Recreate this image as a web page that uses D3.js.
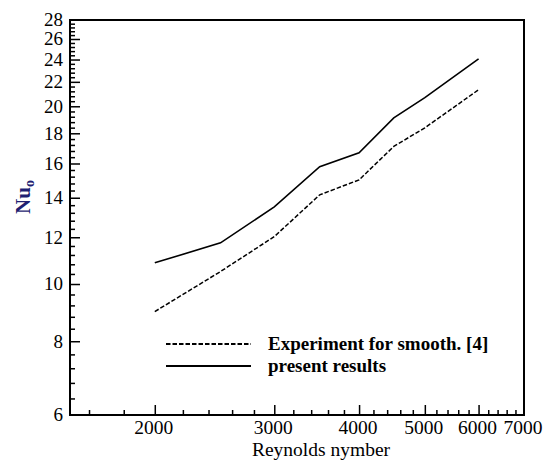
<!DOCTYPE html>
<html><head><meta charset="utf-8">
<script src="https://cdn.jsdelivr.net/npm/d3@7"></script>
<style>body{margin:0;background:#fff}svg{display:block}</style>
</head><body>
<svg id="c" width="549" height="461"></svg>
<script>
const reynolds = [2000, 2500, 3000, 3500, 4000, 4500, 5000, 6000];
const presentResults = [10.86, 11.74, 13.51, 15.8, 16.68, 19.12, 20.68, 24.07];
const experimentSmooth = [8.98, 10.5, 12.03, 14.16, 15.01, 17.1, 18.39, 21.33];
const xTickValues = [2000, 3000, 4000, 5000, 6000, 7000];
const yTickValues = [6, 8, 10, 12, 14, 16, 18, 20, 22, 24, 26, 28];
const legendLabels = ["Experiment for smooth. [4]", "present results"];

const FF = "Liberation Serif";
const svg = d3.select("#c");
const L = 70, R = 524, T = 20, B = 415;
const x = d3.scaleLog().domain([1500, 7000]).range([L, R]);
const y = d3.scaleLog().domain([6, 28]).range([B, T]);

// minor ticks
const xMinor = [];
for (let v = 1600; v < 7000; v += 200) if (v % 1000 !== 0) xMinor.push(v);
const yMinor = [];
for (let i = 0; i < 56; i++) { const v = +(6 + i * 0.4).toFixed(1); if (v < 28 && Math.abs(v/2 - Math.round(v/2)) > 1e-6) yMinor.push(v); }

// x axis
const gx = svg.append("g").attr("transform", `translate(0,${B})`);
gx.call(d3.axisBottom(x).tickValues(xMinor).tickSize(-5).tickFormat(""));
gx.append("g").call(d3.axisBottom(x).tickValues(xTickValues.filter(d=>d<7000)).tickSize(-10).tickFormat(""));
gx.selectAll(".domain").remove();
gx.selectAll("line").attr("stroke", "#000").attr("stroke-width", 1.5);
svg.append("g").selectAll("text").data(xTickValues).join("text")
  .attr("x", d => x(d) - 1).attr("y", 434).attr("text-anchor", "middle")
  .style("font-family", FF).style("font-size", "19.5px").text(d => d);

// y axis
const gy = svg.append("g").attr("transform", `translate(${L},0)`);
gy.call(d3.axisLeft(y).tickValues(yMinor).tickSize(-5).tickFormat(""));
gy.append("g").call(d3.axisLeft(y).tickValues(yTickValues.filter(d=>d>6 && d<28)).tickSize(-10).tickFormat(""));
gy.selectAll(".domain").remove();
gy.selectAll("line").attr("stroke", "#000").attr("stroke-width", 1.5);
svg.append("g").selectAll("text").data(yTickValues).join("text")
  .attr("x", 63).attr("y", d => y(d)).attr("dy", "0.33em").attr("text-anchor", "end")
  .style("font-family", FF).style("font-size", "19px").text(d => d);

// frame
svg.append("rect").attr("x", L).attr("y", T).attr("width", R - L).attr("height", B - T)
  .attr("fill", "none").attr("stroke", "#000").attr("stroke-width", 2);

// lines
const line = d3.line().x((d, i) => x(reynolds[i])).y(d => y(d));
svg.append("path").attr("d", line(experimentSmooth)).attr("fill", "none")
  .attr("stroke", "#000").attr("stroke-width", 1.5).attr("stroke-dasharray", "4.5,2");
svg.append("path").attr("d", line(presentResults)).attr("fill", "none")
  .attr("stroke", "#000").attr("stroke-width", 1.6);

// legend
const lg = svg.append("g");
const ly = [344, 366];
legendLabels.forEach((t, i) => {
  lg.append("line").attr("x1", 166).attr("x2", 251).attr("y1", ly[i]).attr("y2", ly[i])
    .attr("stroke", "#000").attr("stroke-width", 2).attr("stroke-dasharray", i === 0 ? "4.5,2" : null);
  lg.append("text").attr("x", 268).attr("y", ly[i]).attr("dy", "0.33em")
    .style("font-family", FF).style("font-weight", "bold").style("font-size", "19px").text(t);
});

// axis titles
svg.append("text").attr("x", 321).attr("y", 456).attr("text-anchor", "middle")
  .style("font-family", FF).style("font-size", "19.5px").text("Reynolds nymber");
const yt = svg.append("text").attr("transform", "translate(30,197) rotate(-90)")
  .attr("text-anchor", "middle").style("font-family", FF).style("font-weight", "bold")
  .style("font-size", "21px").attr("fill", "#1f1f72");
yt.append("tspan").text("Nu");
yt.append("tspan").style("font-size", "14px").attr("dy", 4).text("o");
</script>
</body></html>
